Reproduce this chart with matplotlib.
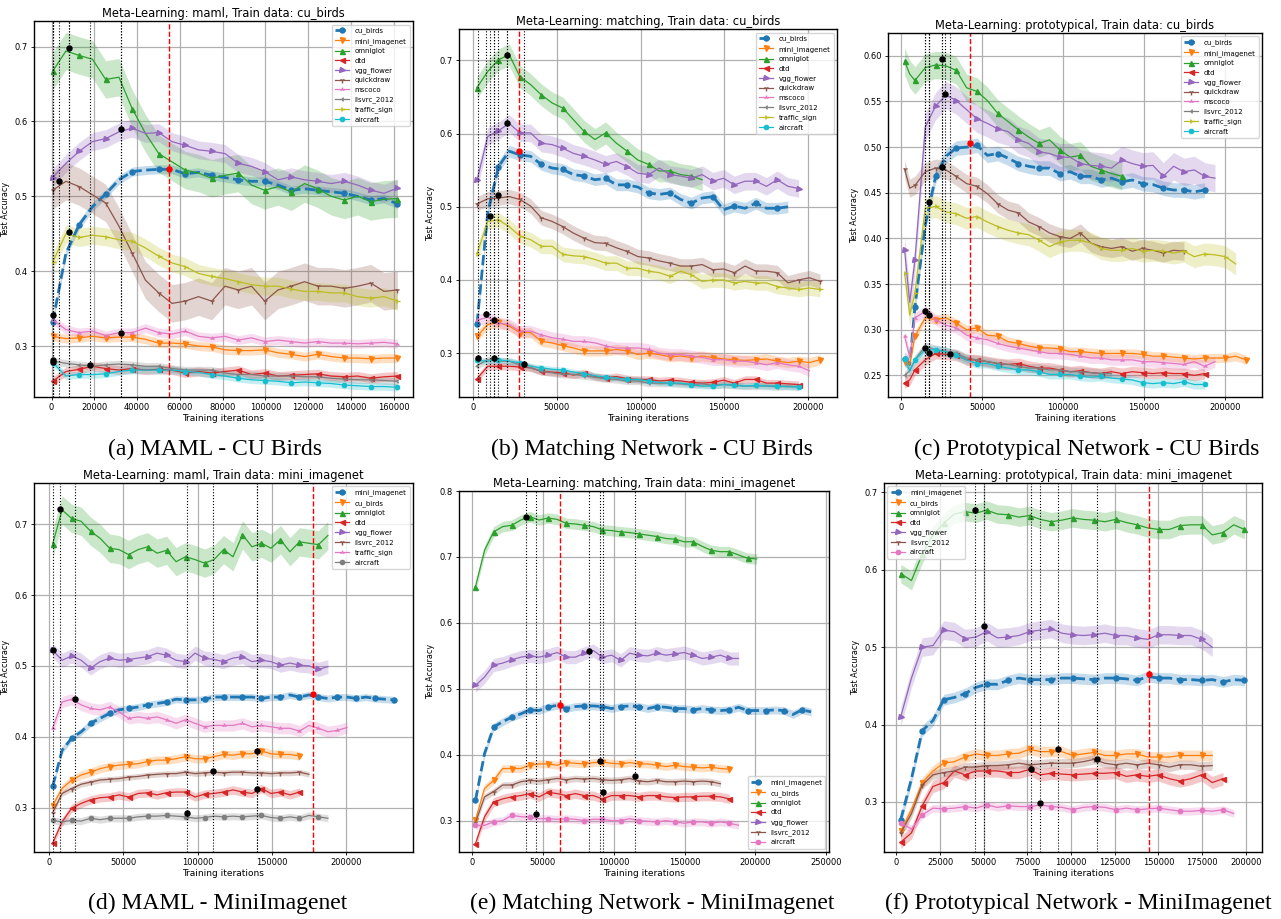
import numpy as np
import matplotlib.pyplot as plt

TAB10 = plt.get_cmap("tab10").colors
MARKERS = ["o", "v", "^", "<", ">", "1", "2", "3", "4", "8"]

CUB_NAMES = ["cu_birds", "mini_imagenet", "omniglot", "dtd", "vgg_flower",
             "quickdraw", "mscoco", "ilsvrc_2012", "traffic_sign", "aircraft"]

# (a) maml trained on cu_birds
A_ITERS = np.arange(500, 161701, 6200)
A_CU = [0.332, 0.424, 0.462, 0.486, 0.503, 0.522, 0.533, 0.535, 0.536, 0.536, 0.530, 0.532, 0.528, 0.525,
        0.522, 0.520, 0.520, 0.515, 0.508, 0.510, 0.508, 0.506, 0.504, 0.500, 0.495, 0.497, 0.490]
A_MINI = [0.313, 0.310, 0.311, 0.313, 0.311, 0.312, 0.312, 0.309, 0.304, 0.304, 0.303, 0.300, 0.299, 0.295,
          0.294, 0.294, 0.295, 0.291, 0.289, 0.286, 0.289, 0.286, 0.284, 0.284, 0.283, 0.284, 0.284]
A_OMNI = [0.667, 0.694, 0.688, 0.683, 0.656, 0.659, 0.617, 0.584, 0.557, 0.546, 0.535, 0.531, 0.524, 0.528,
          0.531, 0.515, 0.508, 0.513, 0.506, 0.517, 0.510, 0.500, 0.495, 0.500, 0.493, 0.496, 0.497]
A_DTD = [0.253, 0.266, 0.269, 0.273, 0.270, 0.268, 0.270, 0.268, 0.269, 0.268, 0.264, 0.266, 0.264, 0.266,
         0.268, 0.262, 0.264, 0.260, 0.261, 0.262, 0.263, 0.260, 0.259, 0.260, 0.257, 0.259, 0.260]
A_VGG = [0.525, 0.544, 0.560, 0.573, 0.577, 0.586, 0.591, 0.584, 0.585, 0.573, 0.568, 0.562, 0.560, 0.557,
         0.544, 0.540, 0.533, 0.522, 0.526, 0.522, 0.520, 0.517, 0.520, 0.515, 0.508, 0.504, 0.511]
A_QUICK = [0.508, 0.520, 0.513, 0.502, 0.491, 0.460, 0.424, 0.388, 0.371, 0.357, 0.360, 0.366, 0.360, 0.380,
           0.375, 0.380, 0.360, 0.375, 0.380, 0.386, 0.380, 0.380, 0.377, 0.380, 0.384, 0.373, 0.375]
A_MSCOCO = [0.335, 0.322, 0.318, 0.320, 0.314, 0.318, 0.318, 0.324, 0.318, 0.316, 0.320, 0.313, 0.311, 0.313,
            0.308, 0.311, 0.306, 0.308, 0.306, 0.304, 0.306, 0.304, 0.304, 0.303, 0.304, 0.305, 0.303]
A_ILSVRC = [0.280, 0.277, 0.275, 0.273, 0.275, 0.276, 0.275, 0.273, 0.273, 0.270, 0.268, 0.268, 0.268, 0.264,
            0.262, 0.262, 0.260, 0.260, 0.260, 0.259, 0.259, 0.257, 0.256, 0.255, 0.255, 0.254, 0.253]
A_TRAFFIC = [0.412, 0.450, 0.445, 0.448, 0.446, 0.442, 0.440, 0.431, 0.420, 0.411, 0.406, 0.397, 0.393, 0.390,
             0.386, 0.382, 0.380, 0.380, 0.376, 0.373, 0.373, 0.371, 0.371, 0.366, 0.364, 0.366, 0.360]
A_AIRCRAFT = [0.278, 0.260, 0.262, 0.262, 0.263, 0.266, 0.268, 0.268, 0.268, 0.268, 0.266, 0.265, 0.262, 0.260,
              0.257, 0.255, 0.254, 0.253, 0.251, 0.252, 0.251, 0.250, 0.248, 0.247, 0.246, 0.246, 0.245]
A_SPREAD = [0.006, 0.006, 0.025, 0.006, 0.012, 0.025, 0.006, 0.005, 0.012, 0.005]
A_DOT_X = [500, 500, 500, 3400, 8100, 8100, 18000, 32600, 32600]
A_DOT_Y = [0.342, 0.281, 0.279, 0.520, 0.698, 0.452, 0.275, 0.590, 0.317]
A_BEST = (55000, 0.536)

# (b) matching trained on cu_birds
B_ITERS = np.arange(2400, 207201, 6400)
B_CU = [0.340, 0.492, 0.555, 0.576, 0.571, 0.569, 0.558, 0.553, 0.551, 0.544, 0.542, 0.537, 0.539, 0.530, 0.530,
        0.527, 0.519, 0.517, 0.519, 0.510, 0.505, 0.512, 0.514, 0.496, 0.501, 0.498, 0.505, 0.498, 0.498, 0.500]
B_MINI = [0.323, 0.339, 0.342, 0.337, 0.328, 0.328, 0.316, 0.314, 0.310, 0.307, 0.303, 0.303, 0.303, 0.305, 0.303,
          0.298, 0.300, 0.298, 0.295, 0.296, 0.294, 0.296, 0.294, 0.292, 0.291, 0.290, 0.291, 0.292, 0.289, 0.287,
          0.289, 0.287, 0.291]
B_OMNI = [0.663, 0.685, 0.701, 0.708, 0.678, 0.667, 0.653, 0.642, 0.635, 0.619, 0.603, 0.592, 0.601, 0.587, 0.576,
          0.564, 0.558, 0.549, 0.549, 0.544, 0.542, 0.537]
B_DTD = [0.265, 0.282, 0.282, 0.282, 0.281, 0.280, 0.275, 0.274, 0.273, 0.270, 0.273, 0.268, 0.266, 0.268, 0.265,
         0.264, 0.264, 0.262, 0.263, 0.262, 0.260, 0.259, 0.260, 0.263, 0.259, 0.264, 0.264, 0.259, 0.259, 0.258,
         0.257]
B_VGG = [0.536, 0.596, 0.604, 0.614, 0.601, 0.601, 0.587, 0.585, 0.580, 0.573, 0.569, 0.564, 0.558, 0.562, 0.555,
         0.546, 0.544, 0.553, 0.544, 0.542, 0.539, 0.544, 0.535, 0.539, 0.530, 0.535, 0.535, 0.528, 0.537, 0.528,
         0.525]
B_QUICK = [0.504, 0.511, 0.512, 0.514, 0.510, 0.501, 0.485, 0.480, 0.473, 0.464, 0.457, 0.451, 0.450, 0.444, 0.439,
           0.432, 0.430, 0.426, 0.423, 0.419, 0.419, 0.421, 0.414, 0.415, 0.410, 0.419, 0.412, 0.412, 0.410, 0.396,
           0.400, 0.403, 0.398]
B_MSCOCO = [0.345, 0.349, 0.341, 0.339, 0.330, 0.330, 0.325, 0.321, 0.319, 0.316, 0.316, 0.314, 0.310, 0.307, 0.307,
            0.307, 0.305, 0.300, 0.298, 0.298, 0.296, 0.294, 0.291, 0.291, 0.289, 0.289, 0.287, 0.284, 0.287, 0.284,
            0.282, 0.276]
B_ILSVRC = [0.283, 0.291, 0.289, 0.289, 0.284, 0.280, 0.275, 0.273, 0.271, 0.271, 0.269, 0.267, 0.265, 0.264, 0.262,
            0.262, 0.259, 0.259, 0.259, 0.258, 0.257, 0.258, 0.256, 0.257, 0.256, 0.255, 0.255, 0.255, 0.254, 0.255,
            0.254]
B_TRAFFIC = [0.436, 0.480, 0.482, 0.473, 0.460, 0.455, 0.446, 0.446, 0.435, 0.433, 0.432, 0.428, 0.423, 0.423, 0.416,
             0.416, 0.412, 0.410, 0.405, 0.412, 0.407, 0.398, 0.400, 0.400, 0.396, 0.398, 0.396, 0.396, 0.391, 0.389,
             0.387, 0.389, 0.387]
B_AIRCRAFT = [0.290, 0.289, 0.291, 0.289, 0.287, 0.282, 0.280, 0.278, 0.277, 0.274, 0.272, 0.269, 0.267, 0.266, 0.264,
              0.264, 0.262, 0.260, 0.259, 0.259, 0.257, 0.255, 0.255, 0.257, 0.256, 0.255, 0.256, 0.255, 0.255, 0.254,
              0.254]
B_SPREAD = [0.008, 0.007, 0.015, 0.005, 0.012, 0.010, 0.008, 0.005, 0.010, 0.004]
B_DOT_X = [3000, 7560, 10150, 12740, 12740, 15120, 20300, 20300, 30250]
B_DOT_Y = [0.294, 0.354, 0.488, 0.345, 0.294, 0.516, 0.708, 0.615, 0.285]
B_BEST = (27670, 0.576)

# (c) prototypical trained on cu_birds
C_ITERS = np.array([2000, 5200] + list(range(8400, 213201, 6400)))
C_CU = [0.268, 0.262, 0.325, 0.415, 0.468, 0.490, 0.499, 0.500, 0.502, 0.491, 0.493, 0.488, 0.482, 0.479, 0.477,
        0.477, 0.471, 0.473, 0.468, 0.468, 0.464, 0.466, 0.462, 0.464, 0.460, 0.459, 0.455, 0.453, 0.453, 0.451,
        0.453]
C_MINI = [0.265, 0.262, 0.293, 0.313, 0.311, 0.313, 0.307, 0.300, 0.302, 0.294, 0.293, 0.287, 0.285, 0.282, 0.280,
          0.280, 0.279, 0.276, 0.276, 0.275, 0.274, 0.274, 0.274, 0.274, 0.273, 0.271, 0.271, 0.270, 0.269, 0.268,
          0.269, 0.269, 0.269, 0.271, 0.267]
C_OMNI = [0.594, 0.580, 0.573, 0.587, 0.590, 0.589, 0.584, 0.565, 0.561, 0.551, 0.537, 0.528, 0.519, 0.511, 0.504,
          0.508, 0.497, 0.489, 0.491, 0.479, 0.475, 0.471, 0.468]
C_DTD = [0.242, 0.245, 0.256, 0.267, 0.274, 0.273, 0.272, 0.267, 0.267, 0.265, 0.263, 0.262, 0.263, 0.260, 0.258,
         0.258, 0.256, 0.254, 0.255, 0.253, 0.252, 0.254, 0.252, 0.254, 0.253, 0.252, 0.253, 0.252, 0.252, 0.250,
         0.252]
C_VGG = [0.387, 0.330, 0.376, 0.522, 0.545, 0.557, 0.551, 0.541, 0.531, 0.526, 0.520, 0.517, 0.508, 0.504, 0.495,
         0.493, 0.489, 0.489, 0.482, 0.480, 0.479, 0.477, 0.486, 0.482, 0.479, 0.480, 0.468, 0.479, 0.473, 0.475,
         0.468, 0.466]
C_QUICK = [0.476, 0.455, 0.458, 0.473, 0.477, 0.475, 0.468, 0.460, 0.457, 0.449, 0.438, 0.431, 0.428, 0.418, 0.413,
           0.406, 0.402, 0.400, 0.406, 0.395, 0.391, 0.389, 0.391, 0.386, 0.389, 0.387, 0.384, 0.387, 0.386]
C_MSCOCO = [0.293, 0.270, 0.313, 0.320, 0.311, 0.305, 0.302, 0.294, 0.291, 0.289, 0.285, 0.282, 0.280, 0.278, 0.276,
            0.274, 0.274, 0.273, 0.271, 0.269, 0.269, 0.267, 0.267, 0.267, 0.265, 0.265, 0.264, 0.263, 0.262, 0.265,
            0.260, 0.265]
C_ILSVRC = [0.250, 0.255, 0.267, 0.282, 0.278, 0.276, 0.274, 0.269, 0.267, 0.265, 0.263, 0.262, 0.260, 0.258, 0.258,
            0.256, 0.256, 0.254, 0.254, 0.253, 0.252, 0.252]
C_TRAFFIC = [0.362, 0.316, 0.340, 0.433, 0.435, 0.429, 0.427, 0.422, 0.424, 0.418, 0.413, 0.409, 0.406, 0.404, 0.398,
             0.391, 0.396, 0.398, 0.398, 0.395, 0.389, 0.387, 0.387, 0.389, 0.386, 0.387, 0.386, 0.384, 0.386, 0.380,
             0.383, 0.382, 0.380, 0.372]
C_AIRCRAFT = [0.268, 0.255, 0.267, 0.278, 0.278, 0.276, 0.272, 0.267, 0.263, 0.263, 0.260, 0.258, 0.256, 0.256, 0.254,
              0.251, 0.251, 0.251, 0.249, 0.248, 0.249, 0.247, 0.246, 0.245, 0.242, 0.241, 0.242, 0.241, 0.243, 0.240,
              0.240]
C_SPREAD = [0.008, 0.005, 0.015, 0.006, 0.015, 0.010, 0.006, 0.005, 0.012, 0.005]
C_DOT_X = [14640, 14640, 17320, 17320, 17320, 24950, 24950, 27220, 30100]
C_DOT_Y = [0.321, 0.280, 0.440, 0.316, 0.275, 0.596, 0.478, 0.558, 0.273]
C_BEST = (42270, 0.504)

MINI_NAMES_D = ["mini_imagenet", "cu_birds", "omniglot", "dtd", "vgg_flower",
                "ilsvrc_2012", "traffic_sign", "aircraft"]
MINI_NAMES = ["mini_imagenet", "cu_birds", "omniglot", "dtd", "vgg_flower",
              "ilsvrc_2012", "aircraft"]

# (d) maml trained on mini_imagenet
D_ITERS = np.arange(2250, 232651, 6400)
D_MINI = [0.330, 0.381, 0.398, 0.407, 0.419, 0.426, 0.433, 0.438, 0.440, 0.442, 0.445, 0.447, 0.449, 0.453, 0.452,
          0.452, 0.453, 0.456, 0.456, 0.456, 0.456, 0.456, 0.454, 0.456, 0.456, 0.459, 0.456, 0.459, 0.456, 0.454,
          0.456, 0.456, 0.454, 0.456, 0.454, 0.453, 0.452]
D_CU = [0.303, 0.327, 0.339, 0.346, 0.350, 0.355, 0.358, 0.360, 0.361, 0.362, 0.365, 0.367, 0.367, 0.369, 0.372,
        0.369, 0.369, 0.372, 0.375, 0.374, 0.376, 0.376, 0.380, 0.376, 0.375, 0.375, 0.373]
D_OMNI = [0.672, 0.720, 0.708, 0.704, 0.690, 0.680, 0.666, 0.664, 0.657, 0.664, 0.668, 0.659, 0.663, 0.647, 0.654,
          0.650, 0.645, 0.650, 0.664, 0.654, 0.685, 0.668, 0.673, 0.666, 0.678, 0.661, 0.675, 0.673, 0.671, 0.684]
D_DTD = [0.250, 0.280, 0.299, 0.306, 0.311, 0.314, 0.315, 0.318, 0.315, 0.320, 0.321, 0.318, 0.321, 0.322, 0.322,
         0.315, 0.319, 0.320, 0.322, 0.325, 0.322, 0.320, 0.327, 0.320, 0.322, 0.318, 0.322]
D_VGG = [0.522, 0.508, 0.514, 0.508, 0.497, 0.506, 0.511, 0.508, 0.509, 0.511, 0.513, 0.518, 0.515, 0.508, 0.506,
         0.518, 0.511, 0.509, 0.506, 0.511, 0.513, 0.506, 0.508, 0.506, 0.501, 0.504, 0.501, 0.500, 0.495, 0.499]
D_ILSVRC = [0.293, 0.320, 0.327, 0.333, 0.336, 0.339, 0.340, 0.341, 0.343, 0.344, 0.346, 0.347, 0.348, 0.348, 0.350,
            0.348, 0.349, 0.350, 0.349, 0.350, 0.350, 0.349, 0.349, 0.348, 0.349, 0.349, 0.350, 0.347]
D_TRAFFIC = [0.412, 0.449, 0.453, 0.445, 0.440, 0.438, 0.442, 0.435, 0.426, 0.428, 0.426, 0.428, 0.424, 0.419, 0.424,
             0.419, 0.414, 0.416, 0.416, 0.416, 0.419, 0.414, 0.416, 0.414, 0.412, 0.412, 0.408, 0.416, 0.412, 0.407,
             0.409, 0.413]
D_AIRCRAFT = [0.282, 0.280, 0.282, 0.281, 0.285, 0.283, 0.285, 0.285, 0.285, 0.287, 0.288, 0.288, 0.289, 0.288, 0.287,
              0.285, 0.286, 0.288, 0.287, 0.288, 0.287, 0.288, 0.289, 0.286, 0.285, 0.287, 0.285, 0.289, 0.287, 0.285]
D_SPREAD = [0.005, 0.006, 0.020, 0.006, 0.010, 0.004, 0.008, 0.005]
D_DOT_X = [2250, 7420, 17540, 92670, 110440, 140350, 140350]
D_DOT_Y = [0.522, 0.722, 0.453, 0.292, 0.352, 0.380, 0.327]
D_BEST = (177700, 0.460)

# (e) matching trained on mini_imagenet
E_ITERS = np.arange(2500, 239301, 6400)
E_MINI = [0.331, 0.402, 0.442, 0.450, 0.457, 0.462, 0.468, 0.467, 0.472, 0.475, 0.470, 0.473, 0.474, 0.474, 0.473,
          0.470, 0.473, 0.474, 0.473, 0.470, 0.473, 0.472, 0.470, 0.470, 0.468, 0.470, 0.468, 0.467, 0.468, 0.472,
          0.467, 0.467, 0.467, 0.468, 0.467, 0.461, 0.468, 0.465]
E_CU = [0.301, 0.349, 0.361, 0.379, 0.379, 0.379, 0.384, 0.386, 0.386, 0.384, 0.388, 0.387, 0.386, 0.388, 0.389,
        0.387, 0.386, 0.388, 0.386, 0.386, 0.384, 0.382, 0.384, 0.382, 0.381, 0.380, 0.381, 0.379, 0.378]
E_OMNI = [0.655, 0.710, 0.738, 0.746, 0.748, 0.756, 0.761, 0.756, 0.759, 0.757, 0.751, 0.750, 0.748, 0.746, 0.741,
          0.740, 0.738, 0.737, 0.735, 0.733, 0.731, 0.728, 0.727, 0.723, 0.723, 0.716, 0.710, 0.708, 0.708, 0.703,
          0.698, 0.697]
E_DTD = [0.265, 0.306, 0.328, 0.333, 0.336, 0.338, 0.341, 0.336, 0.343, 0.341, 0.338, 0.341, 0.338, 0.338, 0.333,
         0.338, 0.338, 0.338, 0.336, 0.338, 0.338, 0.336, 0.335, 0.336, 0.336, 0.337, 0.337, 0.336, 0.333]
E_VGG = [0.505, 0.518, 0.536, 0.539, 0.544, 0.548, 0.550, 0.548, 0.551, 0.555, 0.548, 0.548, 0.554, 0.558, 0.548,
         0.551, 0.543, 0.554, 0.551, 0.550, 0.554, 0.551, 0.553, 0.555, 0.551, 0.546, 0.548, 0.551, 0.546, 0.546]
E_ILSVRC = [0.297, 0.336, 0.344, 0.354, 0.354, 0.359, 0.361, 0.360, 0.362, 0.364, 0.362, 0.364, 0.363, 0.364, 0.362,
            0.361, 0.362, 0.364, 0.360, 0.359, 0.361, 0.359, 0.359, 0.360, 0.359, 0.360, 0.359, 0.356]
E_AIRCRAFT = [0.293, 0.293, 0.298, 0.300, 0.308, 0.306, 0.305, 0.303, 0.303, 0.302, 0.303, 0.302, 0.300, 0.302, 0.302,
              0.300, 0.300, 0.303, 0.300, 0.299, 0.298, 0.300, 0.298, 0.296, 0.298, 0.298, 0.296, 0.298, 0.296, 0.293]
E_SPREAD = [0.006, 0.006, 0.008, 0.007, 0.010, 0.005, 0.006]
E_DOT_X = [37800, 45070, 82390, 90140, 92490, 115020]
E_DOT_Y = [0.761, 0.310, 0.558, 0.390, 0.344, 0.367]
E_BEST = (62440, 0.476)

# (f) prototypical trained on mini_imagenet
F_ITERS = np.arange(2500, 199301, 6150)
F_MINI = [0.277, 0.330, 0.392, 0.405, 0.432, 0.435, 0.440, 0.448, 0.452, 0.452, 0.457, 0.460, 0.458, 0.458, 0.458,
          0.460, 0.460, 0.459, 0.458, 0.460, 0.460, 0.459, 0.457, 0.462, 0.460, 0.460, 0.458, 0.458, 0.457, 0.458,
          0.455, 0.458, 0.457]
F_CU = [0.262, 0.290, 0.325, 0.340, 0.350, 0.352, 0.358, 0.362, 0.360, 0.360, 0.362, 0.363, 0.368, 0.365, 0.365,
        0.365, 0.360, 0.362, 0.364, 0.360, 0.360, 0.362, 0.362, 0.358, 0.358, 0.358, 0.360, 0.360, 0.360, 0.360]
F_OMNI = [0.595, 0.586, 0.620, 0.645, 0.660, 0.672, 0.675, 0.673, 0.677, 0.672, 0.671, 0.668, 0.670, 0.665, 0.662,
          0.664, 0.667, 0.665, 0.664, 0.662, 0.665, 0.661, 0.658, 0.654, 0.652, 0.652, 0.657, 0.658, 0.658, 0.645,
          0.648, 0.658, 0.652]
F_DTD = [0.248, 0.260, 0.295, 0.320, 0.325, 0.340, 0.335, 0.340, 0.340, 0.340, 0.338, 0.338, 0.342, 0.335, 0.337,
         0.336, 0.335, 0.336, 0.337, 0.337, 0.338, 0.333, 0.335, 0.333, 0.335, 0.330, 0.327, 0.330, 0.335, 0.325,
         0.330]
F_VGG = [0.410, 0.460, 0.500, 0.502, 0.522, 0.520, 0.511, 0.513, 0.520, 0.512, 0.513, 0.515, 0.520, 0.522, 0.524,
         0.518, 0.516, 0.515, 0.516, 0.518, 0.515, 0.515, 0.512, 0.510, 0.516, 0.516, 0.515, 0.515, 0.510, 0.500]
F_ILSVRC = [0.260, 0.285, 0.322, 0.335, 0.338, 0.340, 0.345, 0.345, 0.347, 0.347, 0.348, 0.350, 0.348, 0.349, 0.350,
            0.350, 0.350, 0.352, 0.355, 0.350, 0.348, 0.350, 0.348, 0.350, 0.348, 0.345, 0.348, 0.348, 0.346, 0.347]
F_AIRCRAFT = [0.273, 0.265, 0.283, 0.292, 0.291, 0.292, 0.294, 0.292, 0.296, 0.293, 0.295, 0.294, 0.294, 0.296, 0.294,
              0.293, 0.290, 0.293, 0.294, 0.293, 0.290, 0.292, 0.290, 0.291, 0.292, 0.290, 0.288, 0.288, 0.289, 0.288,
              0.290, 0.285]
F_SPREAD = [0.007, 0.007, 0.012, 0.008, 0.012, 0.006, 0.005]
F_DOT_X = [45230, 50190, 77290, 82440, 92560, 114880]
F_DOT_Y = [0.677, 0.527, 0.342, 0.298, 0.369, 0.355]
F_BEST = (144660, 0.465)

CAPTIONS = ["(a) MAML - CU Birds", "(b) Matching Network - CU Birds", "(c) Prototypical Network - CU Birds",
            "(d) MAML - MiniImagenet", "(e) Matching Network - MiniImagenet",
            "(f) Prototypical Network - MiniImagenet"]


def draw_panel(ax, title, iters, names, series, spreads, dot_x, dot_y, best,
               xlim, ylim, xticks, yticks, legend_loc):
    for i, (name, vals, sd) in enumerate(zip(names, series, spreads)):
        y = np.array(vals)
        x = iters[:len(y)]
        color = TAB10[i]
        marker = "8" if name == "aircraft" else MARKERS[i]
        train = i == 0
        ax.fill_between(x, y - sd, y + sd, color=color, alpha=0.25, lw=0)
        ax.plot(x, y, color=color, marker=marker, markevery=2, ms=3.6,
                lw=2.0 if train else 0.9, ls="--" if train else "-",
                label=name)

    # best checkpoint of every evaluation set
    for dx, dy in zip(dot_x, dot_y):
        ax.axvline(dx, color="k", ls=":", lw=0.8)
        ax.plot(dx, dy, "o", color="k", ms=3.6, zorder=6)
    ax.axvline(best[0], color="red", ls="--", lw=1.0)
    ax.plot(best[0], best[1], "o", color="red", ms=3.6, zorder=6)

    ax.set_xlim(*xlim)
    ax.set_ylim(*ylim)
    ax.set_xticks(xticks)
    ax.set_yticks(yticks)
    ax.grid(True, color="#b0b0b0", lw=0.9)
    ax.set_axisbelow(True)
    ax.tick_params(labelsize=6, length=2.5, width=0.6, pad=2)
    ax.set_title(title, fontsize=8.3, pad=3)
    ax.set_xlabel("Training iterations", fontsize=6.5, labelpad=1)
    ax.set_ylabel("Test Accuracy", fontsize=5.8, labelpad=3)
    ax.legend(loc=legend_loc, fontsize=5.0, handlelength=2.0,
              borderpad=0.45, labelspacing=0.5)
    for spine in ax.spines.values():
        spine.set_linewidth(1.0)


fig = plt.figure(figsize=(12.81, 9.19), dpi=100)

positions = [
    [0.0265, 0.5680, 0.2959, 0.4091],
    [0.3583, 0.5680, 0.2951, 0.4004],
    [0.6932, 0.5680, 0.2920, 0.3961],
    [0.0265, 0.0729, 0.2959, 0.4015],
    [0.3583, 0.0729, 0.2888, 0.3928],
    [0.6901, 0.0729, 0.2951, 0.4015],
]
axes = [fig.add_axes(p) for p in positions]

draw_panel(axes[0], "Meta-Learning: maml, Train data: cu_birds", A_ITERS, CUB_NAMES,
           [A_CU, A_MINI, A_OMNI, A_DTD, A_VGG, A_QUICK, A_MSCOCO, A_ILSVRC, A_TRAFFIC, A_AIRCRAFT],
           A_SPREAD, A_DOT_X, A_DOT_Y, A_BEST, (-8250, 169000), (0.232, 0.734),
           np.arange(0, 160001, 20000), [0.3, 0.4, 0.5, 0.6, 0.7], "upper right")
draw_panel(axes[1], "Meta-Learning: matching, Train data: cu_birds", B_ITERS, CUB_NAMES,
           [B_CU, B_MINI, B_OMNI, B_DTD, B_VGG, B_QUICK, B_MSCOCO, B_ILSVRC, B_TRAFFIC, B_AIRCRAFT],
           B_SPREAD, B_DOT_X, B_DOT_Y, B_BEST, (-8360, 217300), (0.240, 0.743),
           np.arange(0, 200001, 50000), [0.3, 0.4, 0.5, 0.6, 0.7], "upper right")
draw_panel(axes[2], "Meta-Learning: prototypical, Train data: cu_birds", C_ITERS, CUB_NAMES,
           [C_CU, C_MINI, C_OMNI, C_DTD, C_VGG, C_QUICK, C_MSCOCO, C_ILSVRC, C_TRAFFIC, C_AIRCRAFT],
           C_SPREAD, C_DOT_X, C_DOT_Y, C_BEST, (-8250, 223100), (0.2263, 0.625),
           np.arange(0, 200001, 50000), [0.25, 0.30, 0.35, 0.40, 0.45, 0.50, 0.55, 0.60], "upper right")
draw_panel(axes[3], "Meta-Learning: maml, Train data: mini_imagenet", D_ITERS, MINI_NAMES_D,
           [D_MINI, D_CU, D_OMNI, D_DTD, D_VGG, D_ILSVRC, D_TRAFFIC, D_AIRCRAFT],
           D_SPREAD, D_DOT_X, D_DOT_Y, D_BEST, (-10350, 245200), (0.2374, 0.758),
           np.arange(0, 200001, 50000), [0.3, 0.4, 0.5, 0.6, 0.7], "upper right")
draw_panel(axes[4], "Meta-Learning: matching, Train data: mini_imagenet", E_ITERS, MINI_NAMES,
           [E_MINI, E_CU, E_OMNI, E_DTD, E_VGG, E_ILSVRC, E_AIRCRAFT],
           E_SPREAD, E_DOT_X, E_DOT_Y, E_BEST, (-9150, 251900), (0.2524, 0.80),
           np.arange(0, 250001, 50000), [0.3, 0.4, 0.5, 0.6, 0.7, 0.8], "lower right")
draw_panel(axes[5], "Meta-Learning: prototypical, Train data: mini_imagenet", F_ITERS, MINI_NAMES,
           [F_MINI, F_CU, F_OMNI, F_DTD, F_VGG, F_ILSVRC, F_AIRCRAFT],
           F_SPREAD, F_DOT_X, F_DOT_Y, F_BEST, (-7060, 209350), (0.2353, 0.712),
           np.arange(0, 200001, 25000), [0.3, 0.4, 0.5, 0.6, 0.7], "upper left")

caption_xy = [(0.168, 0.5114), (0.509, 0.5114), (0.848, 0.5114),
              (0.170, 0.0174), (0.509, 0.0174), (0.842, 0.0174)]
for (cx, cy), text in zip(caption_xy, CAPTIONS):
    fig.text(cx, cy, text, ha="center", va="center",
             family="Liberation Serif", fontsize=17)

fig.savefig("out.png", dpi=100)
